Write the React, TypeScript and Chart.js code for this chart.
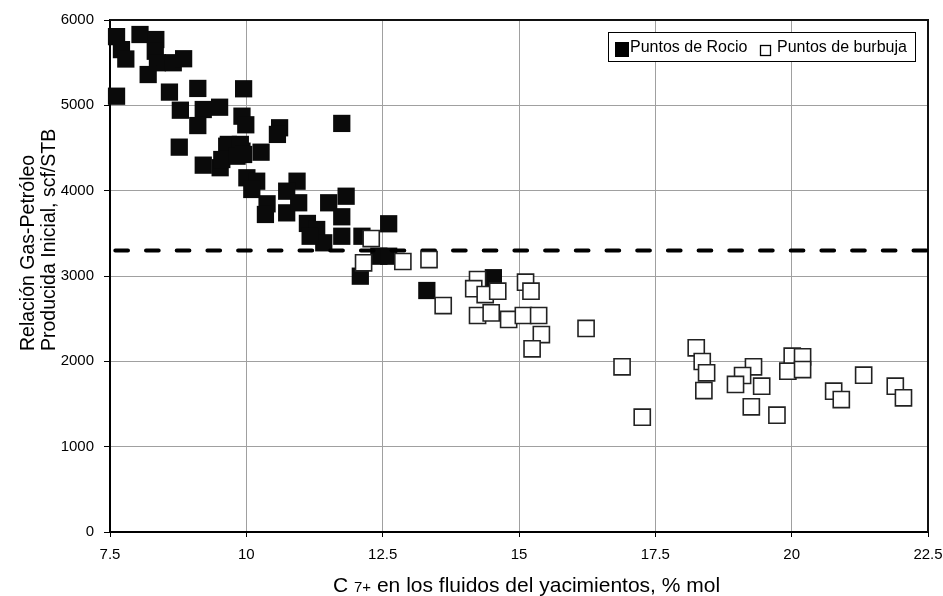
import React, { useEffect, useRef } from 'react';
import { Chart, registerables } from 'chart.js';

Chart.register(...registerables);

// ---- Data ----
const seriesNames = ['Puntos de Rocio', 'Puntos de burbuja'];

const rocioX = [
  7.62, 7.71, 7.79, 8.05, 8.34, 8.33, 8.37, 8.20, 8.66, 8.85,
  7.62, 8.59, 9.11, 8.79, 9.21, 9.51, 9.11, 9.95, 9.92, 9.99,
  10.61, 10.57, 11.75, 8.77, 9.21, 9.52, 9.67, 9.92, 9.64, 9.89,
  9.55, 9.83, 9.95, 10.27, 10.01, 10.19, 10.10, 10.93, 10.74, 10.38,
  10.35, 10.74, 10.96, 11.12, 11.29, 11.42, 11.51, 11.83, 11.75, 11.75,
  12.12, 11.17, 12.61, 12.43, 12.61, 12.09, 13.31, 14.53,
];
const rocioY = [
  5805, 5653, 5543, 5830, 5771, 5634, 5499, 5361, 5499, 5546,
  5107, 5155, 5198, 4943, 4951, 4978, 4763, 5194, 4873, 4772,
  4737, 4659, 4788, 4510, 4299, 4269, 4542, 4463, 4521, 4542,
  4365, 4404, 4424, 4451, 4151, 4111, 4014, 4111, 3994, 3846,
  3721, 3740, 3858, 3616, 3545, 3389, 3858, 3935, 3694, 3466,
  3466, 3466, 3612, 3232, 3232, 2998, 2830, 2980,
];

const burbujaX = [
  12.29, 12.15, 12.87, 13.35, 13.61, 14.24, 14.17, 14.38, 14.61, 14.24,
  14.49, 14.81, 15.12, 15.22, 15.08, 15.36, 15.41, 15.24, 16.23, 16.89,
  17.26, 18.25, 18.36, 18.44, 18.39, 19.30, 19.10, 18.97, 19.45, 19.26,
  19.73, 20.01, 20.20, 19.93, 20.20, 20.77, 20.91, 21.32, 21.90, 22.05,
];
const burbujaY = [
  3439, 3155, 3170, 3193, 2654, 2959, 2851, 2783, 2822, 2537,
  2568, 2491, 2928, 2822, 2537, 2537, 2314, 2147, 2385, 1936,
  1346, 2159, 1998, 1866, 1658, 1936, 1834, 1729, 1709, 1467,
  1369, 2060, 2053, 1885, 1904, 1650, 1552, 1838, 1709, 1573,
];

const thresholdY = 3300;
const xTicks = [7.5, 10, 12.5, 15, 17.5, 20, 22.5];
const yTicks = [0, 1000, 2000, 3000, 4000, 5000, 6000];
const yTitleLines = ['Relación Gas-Petróleo', 'Producida Inicial, scf/STB'];
const xTitleParts = ['C ', '7+', ' en los fluidos del yacimientos, % mol'];

const FONT = "'Liberation Sans', Arial, Helvetica, sans-serif";

const decorPlugin = {
  id: 'decor',
  beforeDatasetsDraw(chart: any) {
    const { ctx, chartArea: a } = chart;
    ctx.save();
    ctx.strokeStyle = '#111';
    ctx.lineWidth = 2;
    ctx.beginPath();
    ctx.moveTo(a.left, a.top);
    ctx.lineTo(a.right, a.top);
    ctx.lineTo(a.right, a.bottom);
    ctx.stroke();
    ctx.restore();
  },
  afterDraw(chart: any) {
    const { ctx } = chart;
    ctx.save();
    // Y title (two lines, rotated, left aligned)
    ctx.fillStyle = '#000';
    ctx.font = `19.5px ${FONT}`;
    ctx.textAlign = 'left';
    ctx.textBaseline = 'alphabetic';
    const baseX = [33.5, 54.5];
    yTitleLines.forEach((line, i) => {
      ctx.save();
      ctx.translate(baseX[i], 351);
      ctx.rotate(-Math.PI / 2);
      ctx.fillText(line, 0, 0);
      ctx.restore();
    });

    // X title with smaller "7+"
    let x = 333;
    const by = 592;
    ctx.font = `21px ${FONT}`;
    ctx.fillText(xTitleParts[0], x, by);
    x += ctx.measureText(xTitleParts[0]).width;
    ctx.font = `15px ${FONT}`;
    ctx.fillText(xTitleParts[1], x, by);
    x += ctx.measureText(xTitleParts[1]).width;
    ctx.font = `21px ${FONT}`;
    ctx.fillText(xTitleParts[2], x, by);

    // Legend
    const lx = 608, ly = 32, lw = 307, lh = 29;
    ctx.fillStyle = '#fff';
    ctx.fillRect(lx, ly, lw, lh);
    ctx.strokeStyle = '#000';
    ctx.lineWidth = 1;
    ctx.strokeRect(lx + 0.5, ly + 0.5, lw, lh);
    ctx.fillStyle = '#000';
    ctx.fillRect(lx + 7, ly + 10, 14, 15);
    ctx.font = `16px ${FONT}`;
    ctx.textBaseline = 'middle';
    ctx.fillText(seriesNames[0], lx + 22, ly + 16);
    ctx.strokeStyle = '#000';
    ctx.lineWidth = 1.3;
    ctx.strokeRect(lx + 152.5, ly + 13.5, 10, 10);
    ctx.fillText(seriesNames[1], lx + 169, ly + 16);
    ctx.restore();
  },
};

export default function App() {
  const ref = useRef<HTMLCanvasElement | null>(null);

  useEffect(() => {
    if (!ref.current) return;
    const chart = new Chart(ref.current, {
      type: 'scatter',
      data: {
        datasets: [
          {
            label: seriesNames[1],
            data: burbujaX.map((x, i) => ({ x, y: burbujaY[i] })),
            pointStyle: 'rect',
            pointRadius: 11.4,
            pointHoverRadius: 11.4,
            pointBackgroundColor: '#fff',
            pointBorderColor: '#222',
            pointBorderWidth: 1.6,
            order: 1,
            clip: false,
          } as any,
          {
            type: 'line',
            label: 'limite',
            data: [
              { x: xTicks[0], y: thresholdY },
              { x: xTicks[xTicks.length - 1], y: thresholdY },
            ],
            borderColor: '#000',
            borderWidth: 4,
            borderDash: [12.7, 18],
            borderDashOffset: 25.4,
            borderCapStyle: 'round',
            pointRadius: 0,
            showLine: true,
            fill: false,
            order: 2,
          } as any,
          {
            label: seriesNames[0],
            data: rocioX.map((x, i) => ({ x, y: rocioY[i] })),
            pointStyle: 'rect',
            pointRadius: 12.2,
            pointHoverRadius: 12.2,
            pointBackgroundColor: '#0a0a0a',
            pointBorderColor: '#0a0a0a',
            pointBorderWidth: 0,
            order: 3,
            clip: false,
          } as any,
        ],
      },
      options: {
        responsive: false,
        animation: false,
        events: [],
        layout: { padding: { top: 20, right: 15, left: 0, bottom: 0 } },
        plugins: {
          legend: { display: false },
          tooltip: { enabled: false },
        },
        scales: {
          x: {
            type: 'linear',
            min: xTicks[0],
            max: xTicks[xTicks.length - 1],
            afterBuildTicks: (s: any) => {
              s.ticks = xTicks.map((v) => ({ value: v }));
            },
            afterFit: (s: any) => {
              s.height = 64;
              s.paddingLeft = 0;
              s.paddingRight = 0;
            },
            ticks: {
              color: '#000',
              font: { size: 15, family: FONT },
              padding: 9,
              maxRotation: 0,
              autoSkip: false,
              callback: (v: any) => String(v),
            },
            grid: {
              color: '#a0a0a0',
              lineWidth: 1,
              drawTicks: true,
              tickLength: 5,
              tickColor: '#000',
            },
            border: { display: true, color: '#000', width: 2 },
            title: { display: false },
          },
          y: {
            type: 'linear',
            min: yTicks[0],
            max: yTicks[yTicks.length - 1],
            afterBuildTicks: (s: any) => {
              s.ticks = yTicks.map((v) => ({ value: v }));
            },
            afterFit: (s: any) => {
              s.width = 110;
              s.paddingTop = 0;
              s.paddingBottom = 0;
            },
            ticks: {
              color: '#000',
              font: { size: 15, family: FONT },
              padding: 10,
              autoSkip: false,
              callback: (v: any) => String(v),
            },
            grid: {
              color: '#a0a0a0',
              lineWidth: 1,
              drawTicks: true,
              tickLength: 6,
              tickColor: '#000',
            },
            border: { display: true, color: '#000', width: 2 },
            title: { display: false },
          },
        },
      } as any,
      plugins: [decorPlugin],
    });
    return () => chart.destroy();
  }, []);

  return (
    <div style={{ position: 'absolute', left: 0, top: 0, width: 943, height: 596, background: '#fff' }}>
      <canvas ref={ref} width={943} height={596} style={{ display: 'block' }} />
    </div>
  );
}
